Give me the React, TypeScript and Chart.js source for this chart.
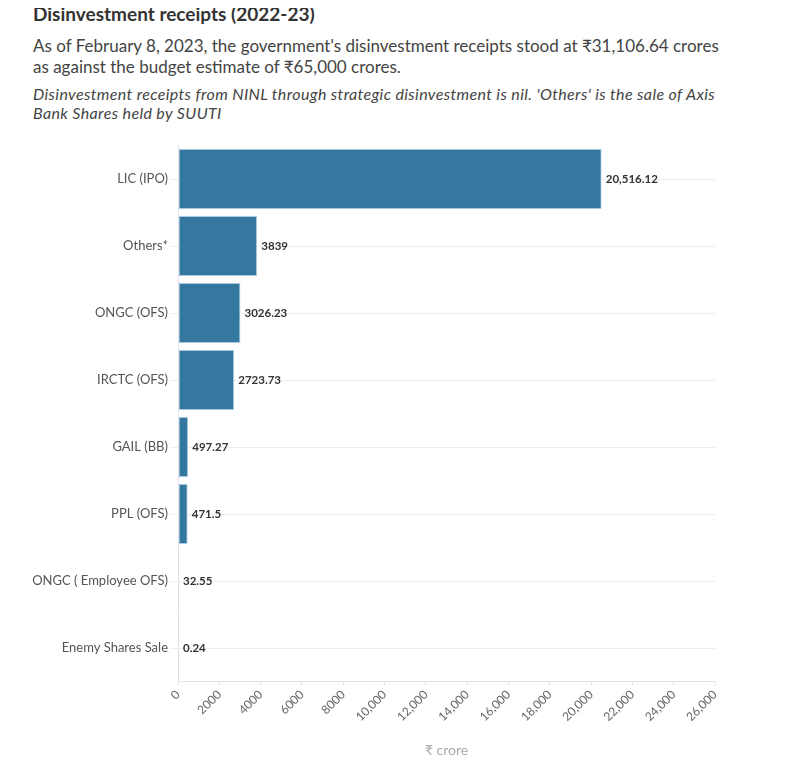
import React, { useEffect, useRef } from "react";
import { Chart, registerables } from "chart.js";

Chart.register(...registerables);

const categories = [
  "LIC (IPO)",
  "Others*",
  "ONGC (OFS)",
  "IRCTC (OFS)",
  "GAIL (BB)",
  "PPL (OFS)",
  "ONGC ( Employee OFS)",
  "Enemy Shares Sale",
];
const receipts = [20516.12, 3839, 3026.23, 2723.73, 497.27, 471.5, 32.55, 0.24];
const xMax = 26000;
const xStep = 2000;

const FONT = "Lato, 'Noto Sans', sans-serif";

function fmt(v: number): string {
  if (Math.abs(v) >= 10000) {
    return v.toLocaleString("en-US", { maximumFractionDigits: 2 });
  }
  return String(v);
}

const valueLabels = {
  id: "valueLabels",
  afterDatasetsDraw(chart: any) {
    const ctx = chart.ctx;
    const meta = chart.getDatasetMeta(0);
    ctx.save();
    ctx.font = `bold 11.5px ${FONT}`;
    ctx.fillStyle = "#333";
    ctx.textAlign = "left";
    ctx.textBaseline = "middle";
    meta.data.forEach((el: any, i: number) => {
      const v = chart.data.datasets[0].data[i] as number;
      ctx.fillText(fmt(v), el.x + 4, el.y);
    });
    ctx.restore();
  },
};

export default function App() {
  const ref = useRef<HTMLCanvasElement | null>(null);
  useEffect(() => {
    if (!ref.current) return;
    const chart = new Chart(ref.current, {
      type: "bar",
      data: {
        labels: categories,
        datasets: [
          {
            data: receipts,
            backgroundColor: "#34789f",
            borderColor: "rgba(190,215,235,0.9)",
            borderWidth: 1,
            borderSkipped: false,
            barPercentage: 0.9,
            categoryPercentage: 1,
            minBarLength: 1,
          },
        ],
      },
      options: {
        indexAxis: "y",
        animation: false,
        responsive: false,
        maintainAspectRatio: false,
        layout: { padding: { top: 10.5, right: 25, bottom: 0, left: 0 } },
        plugins: {
          legend: { display: false },
          tooltip: { enabled: false },
        },
        scales: {
          x: {
            min: 0,
            max: xMax,
            afterFit: (s: any) => {
              s.height = 88.5;
            },
            ticks: {
              stepSize: xStep,
              minRotation: 45,
              maxRotation: 45,
              autoSkip: false,
              padding: 2,
              color: "#666",
              font: { family: FONT, size: 12 },
              callback: (v: any) => fmt(Number(v)),
            },
            grid: {
              drawOnChartArea: false,
              drawTicks: true,
              tickLength: 4,
              color: "#e3e3e3",
            },
            border: { display: true, color: "#e3e3e3" },
            title: {
              display: true,
              text: "₹ crore",
              color: "#aaa",
              font: { family: FONT, size: 14 },
              padding: { top: 0, bottom: 11 },
            },
          },
          y: {
            afterFit: (s: any) => {
              s.width = 178;
            },
            ticks: {
              color: "#555",
              padding: 2,
              font: { family: FONT, size: 13 },
            },
            grid: {
              offset: false,
              color: "#ededed",
              tickLength: 8,
            },
            border: { display: true, color: "#e3e3e3" },
          },
        },
      },
      plugins: [valueLabels],
    });
    return () => chart.destroy();
  }, []);

  return (
    <div
      style={{
        position: "relative",
        width: 787,
        height: 777,
        margin: -8,
        fontFamily: FONT,
        background: "#fff",
        overflow: "hidden",
      }}
    >
      <div
        style={{
          position: "absolute",
          left: 33,
          top: 3,
          fontSize: 19,
          lineHeight: "22px",
          fontWeight: 700,
          color: "#333",
          whiteSpace: "nowrap",
        }}
      >
        Disinvestment receipts (2022-23)
      </div>
      <div
        style={{
          position: "absolute",
          left: 33,
          top: 35,
          fontSize: 17,
          lineHeight: "21px",
          color: "#444",
          whiteSpace: "nowrap",
        }}
      >
        As of February 8, 2023, the government's disinvestment receipts stood at ₹31,106.64 crores
        <br />
        as against the budget estimate of ₹65,000 crores.
      </div>
      <div
        style={{
          position: "absolute",
          left: 33,
          top: 84,
          fontSize: 16,
          letterSpacing: "0.37px",
          lineHeight: "19px",
          fontStyle: "italic",
          color: "#444",
          whiteSpace: "nowrap",
        }}
      >
        Disinvestment receipts from NINL through strategic disinvestment is nil. 'Others' is the sale of Axis
        <br />
        Bank Shares held by SUUTI
      </div>
      <canvas
        ref={ref}
        width={740}
        height={635}
        style={{ position: "absolute", left: 0, top: 135, width: 740, height: 635 }}
      />
      <div
        style={{
          position: "absolute",
          left: 0,
          top: 769,
          width: 787,
          height: 8,
          background: "#efefef",
          borderTop: "1px solid #e2e2e2",
        }}
      />
    </div>
  );
}
